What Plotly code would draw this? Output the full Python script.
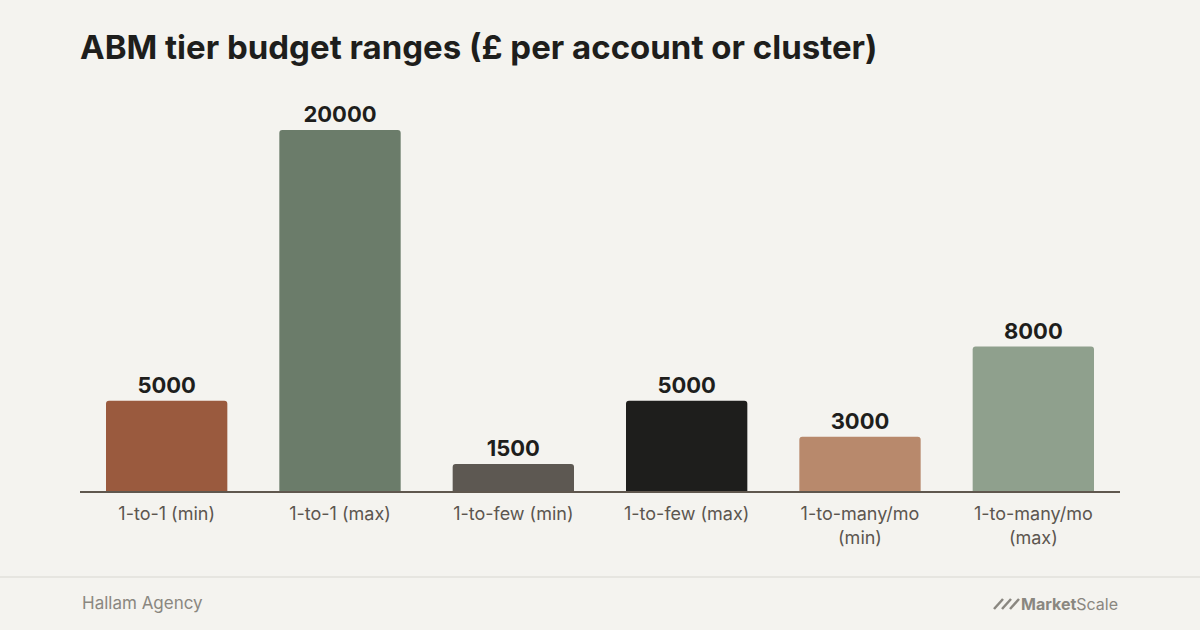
import plotly.graph_objects as go

# ABM tier budgets, £ per account or cluster
categories = [
    "1-to-1 (min)",
    "1-to-1 (max)",
    "1-to-few (min)",
    "1-to-few (max)",
    "1-to-many/mo<br>(min)",
    "1-to-many/mo<br>(max)",
]
budgets = [5000, 20000, 1500, 5000, 3000, 8000]
bar_colors = ["#9a5a3e", "#6b7c6a", "#5d5852", "#1e1e1c", "#b8896c", "#8fa08d"]

bg = "#f4f3ef"

fig = go.Figure(
    go.Bar(
        x=categories,
        y=budgets,
        marker=dict(color=bar_colors, line=dict(width=0), cornerradius=3),
        text=[str(v) for v in budgets],
        textposition="outside",
        textfont=dict(family="Inter", size=22, color="#1e1e1c", weight="bold"),
        cliponaxis=False,
        hoverinfo="skip",
    )
)

fig.update_layout(
    width=1200,
    height=630,
    paper_bgcolor=bg,
    plot_bgcolor=bg,
    margin=dict(l=80, r=80, t=100, b=139),
    bargap=0.3,
    showlegend=False,
    font=dict(family="Inter", color="#5c564f"),
    title=dict(
        text="<b>ABM tier budget ranges (£ per account or cluster)</b>",
        x=80 / 1200,
        xanchor="left",
        y=1 - 47 / 630,
        yanchor="middle",
        font=dict(family="Inter", size=33, color="#1e1e1c"),
    ),
)

fig.update_xaxes(
    showgrid=False,
    showline=True,
    linecolor="#5f574e",
    linewidth=1.5,
    ticks="",
    ticklabelstandoff=6,
    tickfont=dict(size=18, color="#5c564f"),
)
fig.update_yaxes(
    range=[0, 20000 * 391 / 361],
    showgrid=False,
    zeroline=False,
    showticklabels=False,
)

# footer separator
fig.add_shape(
    type="line",
    xref="paper",
    yref="paper",
    x0=-80 / 1040,
    x1=1 + 80 / 1040,
    y0=-86 / 391,
    y1=-86 / 391,
    line=dict(color="#e6e5e0", width=2),
)

fig.add_annotation(
    text="Hallam Agency",
    xref="paper",
    yref="paper",
    x=0,
    y=-112 / 391,
    xanchor="left",
    yanchor="middle",
    showarrow=False,
    font=dict(size=17, color="#8a8780"),
)

# MarketScale logo text with a slashed mark
fig.add_annotation(
    text="<b>Market</b>Scale",
    xref="paper",
    yref="paper",
    x=1,
    y=-113 / 391,
    xanchor="right",
    yanchor="middle",
    showarrow=False,
    font=dict(size=16, color="#8a8780"),
)
for dx in [0, 8, 16]:
    x0 = (994 + dx - 80) / 1040
    fig.add_shape(
        type="line",
        xref="paper",
        yref="paper",
        x0=x0,
        x1=x0 + 9 / 1040,
        y0=-118 / 391,
        y1=-108 / 391,
        line=dict(color="#8a8780", width=2.5),
    )

fig.write_html(
    "out.html",
    config={"displayModeBar": False},
    post_script="document.body.style.margin='0';",
)
